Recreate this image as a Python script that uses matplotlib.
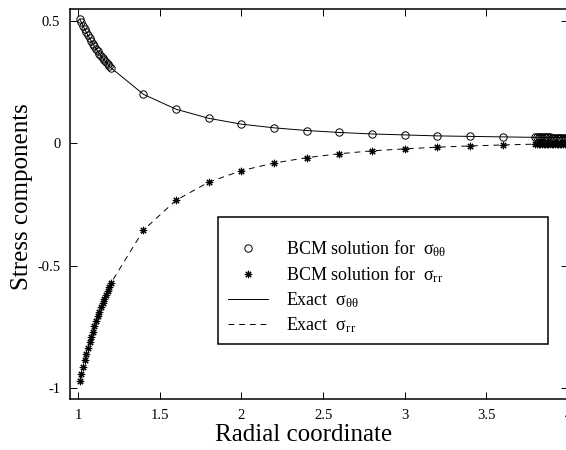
import numpy as np
import matplotlib
matplotlib.use("Agg")
import matplotlib.pyplot as plt
from matplotlib.patches import Rectangle

plt.rcParams['font.family'] = ['Liberation Serif', 'DejaVu Serif']
plt.rcParams['mathtext.fontset'] = 'custom'
plt.rcParams['mathtext.rm'] = 'Liberation Serif'
plt.rcParams['mathtext.it'] = 'Liberation Serif'
plt.rcParams['axes.unicode_minus'] = False

# radial points (dense near both boundaries)
r_in = [1.01, 1.02, 1.03, 1.04, 1.05, 1.06, 1.07, 1.08, 1.09, 1.10,
        1.11, 1.12, 1.13, 1.14, 1.15, 1.16, 1.17, 1.18, 1.19, 1.20]
r_mid = [1.4, 1.6, 1.8, 2.0, 2.2, 2.4, 2.6, 2.8, 3.0, 3.2, 3.4, 3.6]
r_out = [3.80, 3.81, 3.82, 3.83, 3.84, 3.85, 3.86, 3.87, 3.88, 3.89, 3.90,
         3.91, 3.92, 3.93, 3.94, 3.95, 3.96, 3.97, 3.98, 3.99, 4.00]

# hoop stress
s_tt_in = [0.509, 0.495, 0.481, 0.467, 0.455, 0.442, 0.430, 0.419, 0.408, 0.397,
           0.387, 0.377, 0.368, 0.359, 0.350, 0.341, 0.333, 0.325, 0.317, 0.310]
s_tt_mid = [0.201, 0.140, 0.103, 0.079, 0.064, 0.053, 0.045, 0.039, 0.035, 0.031, 0.029, 0.027]
s_tt_out = [0.0251, 0.0251, 0.0250, 0.0249, 0.0248, 0.0248, 0.0247, 0.0246, 0.0246, 0.0245, 0.0244,
            0.0244, 0.0243, 0.0242, 0.0242, 0.0241, 0.0241, 0.0240, 0.0239, 0.0239, 0.0238]

# radial stress
s_rr_in = [-0.970, -0.941, -0.914, -0.887, -0.862, -0.837, -0.813, -0.791, -0.769, -0.747,
           -0.727, -0.707, -0.688, -0.670, -0.652, -0.635, -0.618, -0.602, -0.587, -0.572]
s_rr_mid = [-0.354, -0.232, -0.158, -0.111, -0.080, -0.058, -0.042, -0.030, -0.022, -0.015, -0.010, -0.006]
s_rr_out = [-0.0026, -0.0025, -0.0024, -0.0022, -0.0021, -0.0019, -0.0018, -0.0017, -0.0015, -0.0014, -0.0013,
            -0.0011, -0.0010, -0.0009, -0.0007, -0.0006, -0.0005, -0.0004, -0.0002, -0.0001, 0.0000]

r = r_in + r_mid + r_out
s_tt = s_tt_in + s_tt_mid + s_tt_out
s_rr = s_rr_in + s_rr_mid + s_rr_out

fig = plt.figure(figsize=(5.66, 4.5), dpi=100)
ax = fig.add_axes([70/566, 51/450, 498/566, 390/450])

asterisk = (8, 2, 0)
h1, = ax.plot(r, s_tt, ls='none', marker='o', ms=5.3, mfc='none', mec='black', mew=0.7)
h2, = ax.plot(r, s_rr, ls='none', marker=asterisk, ms=5.3, mec='black', mew=0.8)
h3, = ax.plot(r, s_tt, color='black', lw=0.7)
h4, = ax.plot(r, s_rr, color='black', lw=0.7, ls=(0, (6, 5)))

ax.set_xlim(0.95, 4.0)
ax.set_ylim(-1.045, 0.55)
ax.set_xticks([1, 1.5, 2, 2.5, 3, 3.5, 4])
ax.set_xticklabels(['1', '1.5', '2', '2.5', '3', '3.5', '4'])
ax.set_yticks([-1, -0.5, 0, 0.5])
ax.set_yticklabels(['-1', '-0.5', '0', '0.5'])
ax.tick_params(direction='in', top=True, right=True, length=5, width=0.7,
               labelsize=10.5, pad=7)
for sp in ax.spines.values():
    sp.set_linewidth(1.1)

ax.set_xlabel('Radial coordinate', fontsize=18)
ax.set_ylabel('Stress components', fontsize=18)
ax.xaxis.set_label_coords(0.47, -0.064)
ax.yaxis.set_label_coords(-0.075, 0.52)

labels = [r'BCM solution for  $\mathrm{\sigma_{\theta\theta}}$',
          r'BCM solution for  $\mathrm{\sigma_{rr}}$',
          r'Exact  $\mathrm{\sigma_{\theta\theta}}$',
          r'Exact  $\mathrm{\sigma_{rr}}$']
leg = fig.legend([h1, h2, h3, h4], labels, loc='upper left',
                 bbox_to_anchor=(228/566, 1 - 238/450), frameon=False,
                 fontsize=13, handlelength=2.2, handletextpad=1.0,
                 labelspacing=0.3, borderpad=0, borderaxespad=0)
fig.add_artist(Rectangle((218/566, 1 - 344/450), 330/566, 127/450,
                         transform=fig.transFigure, fill=False,
                         edgecolor='black', lw=1.1))

fig.savefig('out.png', dpi=100)
